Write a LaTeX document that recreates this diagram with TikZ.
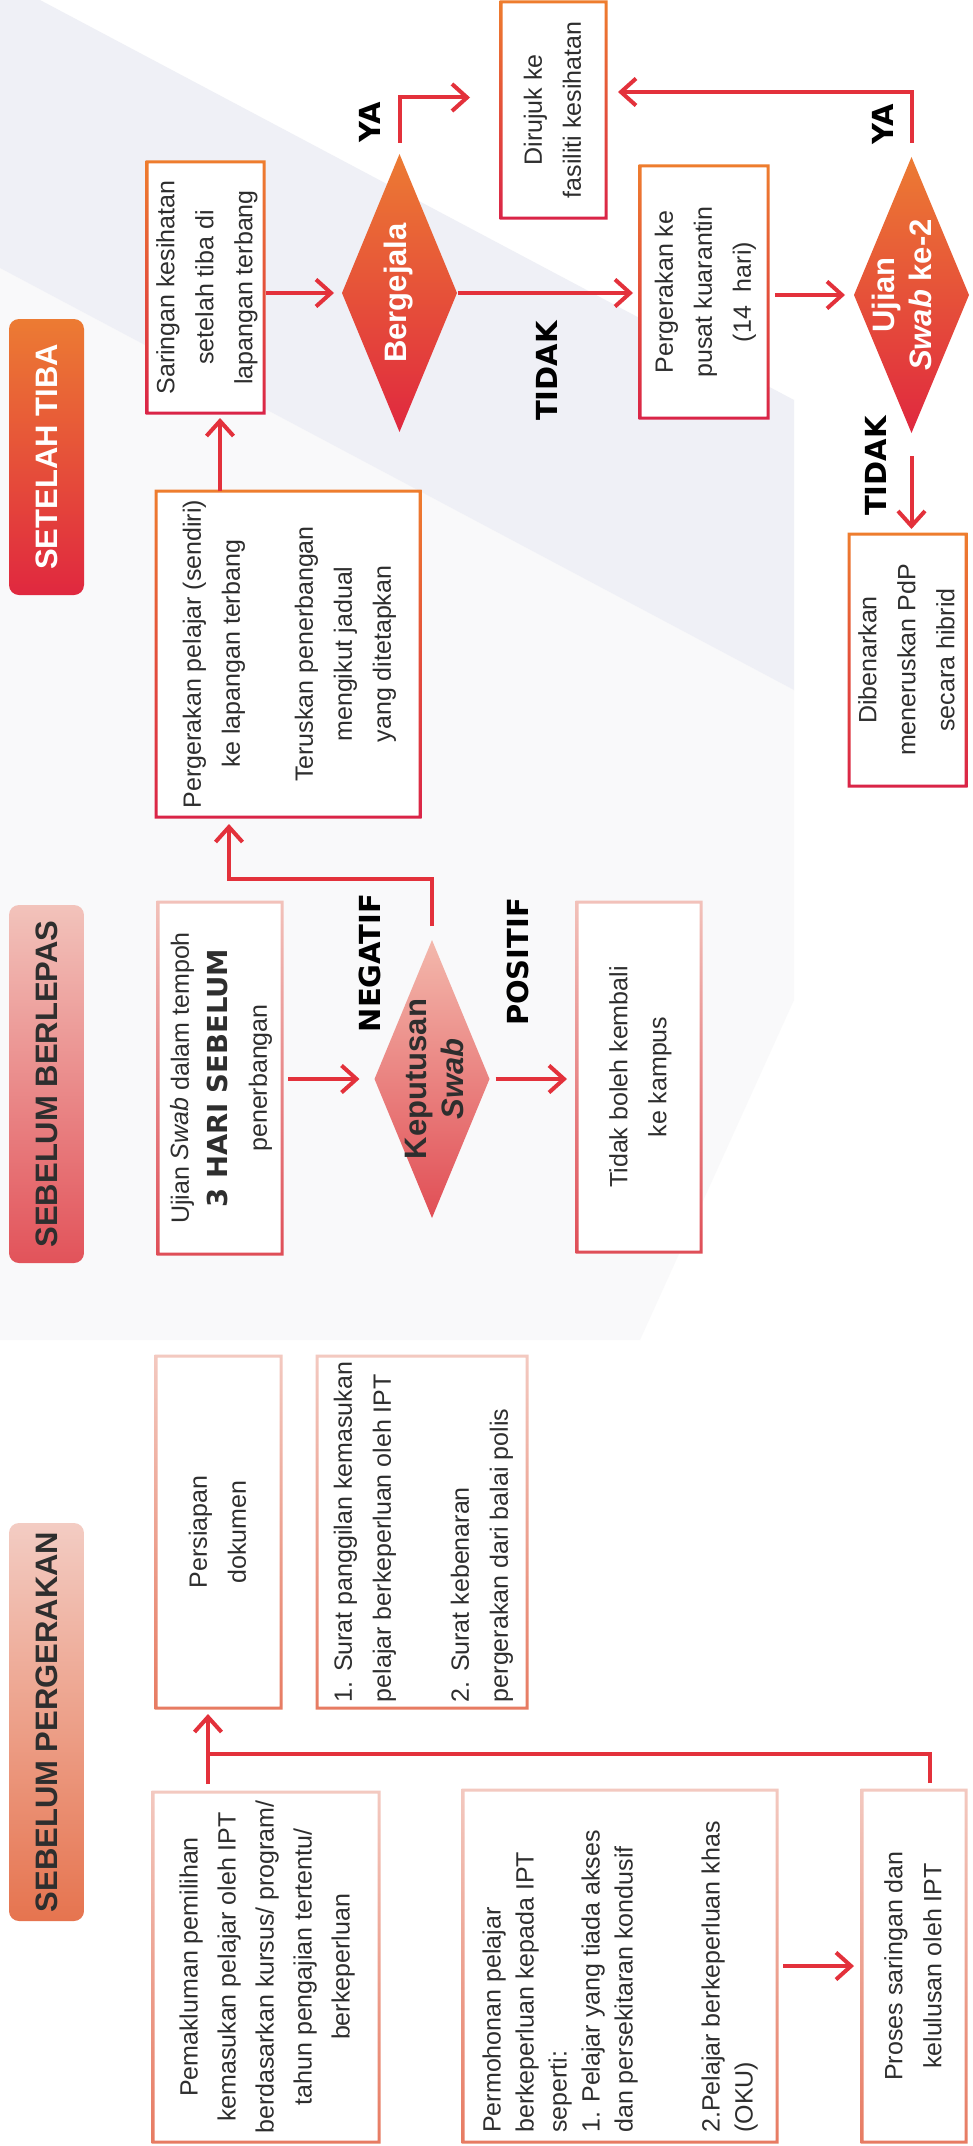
\documentclass[tikz,border=0pt]{standalone}
\usepackage{fontspec}
\setmainfont{Liberation Sans}
\newfontfamily\heavy{DejaVu Sans}
\usepackage{graphicx}
\usetikzlibrary{shapes.geometric,arrows.meta,calc}
\definecolor{arrc}{HTML}{E3313B}
\definecolor{txt}{HTML}{2E2E2E}
\definecolor{orT}{HTML}{EE7D2E}
\definecolor{rdB}{HTML}{DA2447}
\definecolor{pkT}{HTML}{F2C2BA}
\definecolor{pkB}{HTML}{DF4E57}
\definecolor{saT}{HTML}{F3C9C0}
\definecolor{saB}{HTML}{E77B62}
\definecolor{dkT}{HTML}{EC7B33}
\definecolor{dkB}{HTML}{E0283F}
\definecolor{kpT}{HTML}{F3B8AC}
\definecolor{kpB}{HTML}{E14E55}
\definecolor{hbT}{HTML}{F2C3BB}
\definecolor{hbB}{HTML}{E2535A}
\definecolor{hgT}{HTML}{F3CCC3}
\definecolor{hgB}{HTML}{E6744F}
\definecolor{band}{HTML}{EFF0F6}
\definecolor{haze}{HTML}{F9F9FA}
\newcommand\rtx[2][c]{\rotatebox{90}{\begin{tabular}{@{}#1@{}}#2\end{tabular}}}
\newcommand\frm[3]{\shade[top color=#2,bottom color=#3,even odd rule]
  ([shift={(-1.5pt,1.5pt)}]#1.north west) rectangle ([shift={(1.5pt,-1.5pt)}]#1.south east)
  ([shift={(1.5pt,-1.5pt)}]#1.north west) rectangle ([shift={(-1.5pt,1.5pt)}]#1.south east);}
\begin{document}
\begin{tikzpicture}[x=1pt,y=-1pt,
  bx/.style={rectangle,inner sep=0pt,outer sep=0pt,fill=white,text=txt,font=\fontsize{25}{39}\selectfont},
  dia/.style={diamond,inner sep=0pt,outer sep=0pt,draw=none},
  dtxt/.style={inner sep=0pt,font=\bfseries\fontsize{31}{37}\selectfont},
  hd/.style={rectangle,rounded corners=10pt,inner sep=0pt,font=\bfseries\fontsize{31}{31}\selectfont},
  lbl/.style={inner sep=0pt,text=black,font=\heavy\bfseries\fontsize{29}{29}\selectfont},
  arr/.style={draw=arrc,line width=4pt,-{Straight Barb[length=15pt,width=27pt,line width=4pt]}},
  ln/.style={draw=arrc,line width=4pt}]
\fill[white] (0,0) rectangle (972,2146);
\useasboundingbox (0,0) rectangle (972,2146);
\fill[haze] (0,268) -- (794,690) -- (794,1000) -- (640,1340) -- (0,1340) -- cycle;
\fill[band] (0,0) -- (40,0) -- (794,400) -- (794,690) -- (0,268) -- cycle;

% headers
\node[hd,minimum width=75pt,minimum height=276pt,top color=dkT,bottom color=dkB,text=white] (hTiba) at (46.5,457) {\rotatebox{90}{SETELAH TIBA}};
\node[hd,minimum width=75pt,minimum height=358pt,top color=hbT,bottom color=hbB,text=txt] (hBerlepas) at (46.5,1084) {\rotatebox{90}{SEBELUM BERLEPAS}};
\node[hd,minimum width=75pt,minimum height=398pt,top color=hgT,bottom color=hgB,text=txt] (hGerak) at (46.5,1722) {\rotatebox{90}{SEBELUM PERGERAKAN}};

% SETELAH TIBA boxes
\node[bx,minimum width=111pt,minimum height=251pt] (saringan) at (205.5,287.5) {\rtx{Saringan kesihatan\\ setelah tiba di\\ lapangan terbang}};
\frm{saringan}{orT}{rdB}
\node[bx,minimum width=264pt,minimum height=326pt] (pelajar) at (288,654) {\rtx{Pergerakan pelajar (sendiri)\\ ke lapangan terbang\\[34pt] Teruskan penerbangan\\ mengikut jadual\\ yang ditetapkan}};
\frm{pelajar}{orT}{rdB}
\node[bx,minimum width=105pt,minimum height=216pt] (dirujuk) at (553.5,110) {\rtx{Dirujuk ke\\ fasiliti kesihatan}};
\frm{dirujuk}{orT}{rdB}
\node[bx,minimum width=128pt,minimum height=252pt] (kuarantin) at (704,292) {\rtx{Pergerakan ke\\ pusat kuarantin\\ (14\ \ hari)}};
\frm{kuarantin}{orT}{rdB}
\node[bx,minimum width=117pt,minimum height=252pt] (dibenarkan) at (907.5,660) {\rtx{Dibenarkan\\ meneruskan PdP\\ secara hibrid}};
\frm{dibenarkan}{orT}{rdB}

% SEBELUM BERLEPAS boxes
\node[bx,minimum width=124pt,minimum height=352pt] (ujianswab) at (220,1078) {\rtx{Ujian \textit{Swab} dalam tempoh\\ {\heavy\bfseries\fontsize{27.5}{39}\selectfont 3 HARI SEBELUM}\\ penerbangan}};
\frm{ujianswab}{pkT}{pkB}
\node[bx,minimum width=124pt,minimum height=350pt] (tidakboleh) at (639,1077) {\rtx{Tidak boleh kembali\\ ke kampus}};
\frm{tidakboleh}{pkT}{pkB}

% SEBELUM PERGERAKAN boxes
\node[bx,minimum width=125pt,minimum height=352pt] (persiapan) at (218.5,1532) {\rtx{Persiapan\\ dokumen}};
\frm{persiapan}{saT}{saB}
\node[bx,minimum width=210pt,minimum height=352pt] (surat) at (422,1532) {\rtx[l]{1. Surat panggilan kemasukan\\ pelajar berkeperluan oleh IPT\\[39pt] 2. Surat kebenaran\\ pergerakan dari balai polis}};
\frm{surat}{saT}{saB}
\node[bx,minimum width=226pt,minimum height=350pt,font=\fontsize{25}{38}\selectfont] (pemakluman) at (266,1967) {\rtx{Pemakluman pemilihan\\ kemasukan pelajar oleh IPT\\ berdasarkan kursus/ program/\\ tahun pengajian tertentu/\\ berkeperluan}};
\frm{pemakluman}{saT}{saB}
\node[bx,minimum width=314pt,minimum height=352pt,font=\fontsize{25}{33}\selectfont] (permohonan) at (620,1966) {\rotatebox{90}{\begin{tabular}{@{}l@{}}Permohonan pelajar\\ berkeperluan kepada IPT\\ seperti:\\ 1. Pelajar yang tiada akses\\ dan persekitaran kondusif\\[54pt] 2.Pelajar berkeperluan khas\\ (OKU)\end{tabular}\hspace{22pt}}};
\frm{permohonan}{saT}{saB}
\node[bx,minimum width=104pt,minimum height=352pt] (proses) at (914,1966) {\rtx{Proses saringan dan\\ kelulusan oleh IPT}};
\frm{proses}{saT}{saB}

% diamonds
\node[dia,minimum width=115pt,minimum height=278pt,top color=dkT,bottom color=dkB] (bergejala) at (399.5,293) {};
\node[dtxt,text=white] (bergejalaT) at (bergejala.center) {\rtx{Bergejala}};
\node[dia,minimum width=115pt,minimum height=276pt,top color=dkT,bottom color=dkB] (ujian2) at (911.5,295) {};
\node[dtxt,text=white] (ujian2T) at ([xshift=-6pt]ujian2.center) {\rtx{Ujian\\ \textit{Swab} ke-2}};
\node[dia,minimum width=115pt,minimum height=278pt,top color=kpT,bottom color=kpB] (keputusan) at (432,1079) {};
\node[dtxt,text=txt] (keputusanT) at ([xshift=6pt]keputusan.center) {\rtx{Keputusan\\ \textit{Swab}}};

% labels
\node[lbl] (ya1) at (370,122) {\rotatebox{90}{YA}};
\node[lbl] (tidak1) at (547,371) {\rotatebox{90}{TIDAK}};
\node[lbl] (ya2) at (883,124) {\rotatebox{90}{YA}};
\node[lbl] (tidak2) at (876,466) {\rotatebox{90}{TIDAK}};
\node[lbl] (negatif) at (370,963) {\rotatebox{90}{NEGATIF}};
\node[lbl] (positif) at (518,962) {\rotatebox{90}{POSITIF}};

% connectors
\coordinate (pa) at ([xshift=64pt]pelajar.north west);
\draw[arr,shorten >=5pt] (pa) -- (pa |- saringan.south);
\draw[arr,shorten <=2pt,shorten >=8pt] (saringan.east |- bergejala.west) -- (bergejala.west);
\coordinate (ya1s) at ([yshift=11pt]bergejala.north);
\coordinate (ya1e) at ([yshift=12.5pt]dirujuk.west);
\draw[arr,shorten >=31pt] (ya1s) |- (ya1e);
\draw[arr,shorten <=1pt,shorten >=7pt] (bergejala.east) -- (bergejala.east -| kuarantin.west);
\draw[arr,shorten <=7pt,shorten >=9pt] (kuarantin.east |- ujian2.west) -- (ujian2.west);
\coordinate (ya2s) at ([yshift=14pt]ujian2.north);
\coordinate (ya2e) at ([yshift=18pt]dirujuk.east);
\draw[arr,shorten >=12pt] (ya2s) |- (ya2e);
\draw[arr,shorten <=23pt,shorten >=5pt] (ujian2.south) -- (ujian2.south |- dibenarkan.north);
\draw[arr,shorten <=6pt,shorten >=15pt] (ujianswab.east |- keputusan.west) -- (keputusan.west);
\draw[arr,shorten <=6pt,shorten >=10pt] (keputusan.east) -- (keputusan.east -| tidakboleh.west);
\coordinate (ngs) at ([yshift=14pt]keputusan.north);
\coordinate (ngm) at ([yshift=61pt]keputusan.north);
\coordinate (nge) at ([xshift=73pt]pelajar.south west);
\draw[arr,shorten >=7pt] (ngs) -- (ngm) -| (nge);
\coordinate (pm) at ([xshift=55pt]pemakluman.north west);
\coordinate (jn) at ([yshift=38pt]pm);
\draw[arr,shorten <=8pt,shorten >=6pt] (pm) -- (pm |- persiapan.south);
\coordinate (pr) at ([xshift=68pt]proses.north west);
\draw[ln,shorten <=7pt] (pr) |- (jn);
\draw[arr,shorten <=6pt,shorten >=8pt] (permohonan.east) -- (proses.west);
\end{tikzpicture}
\end{document}
